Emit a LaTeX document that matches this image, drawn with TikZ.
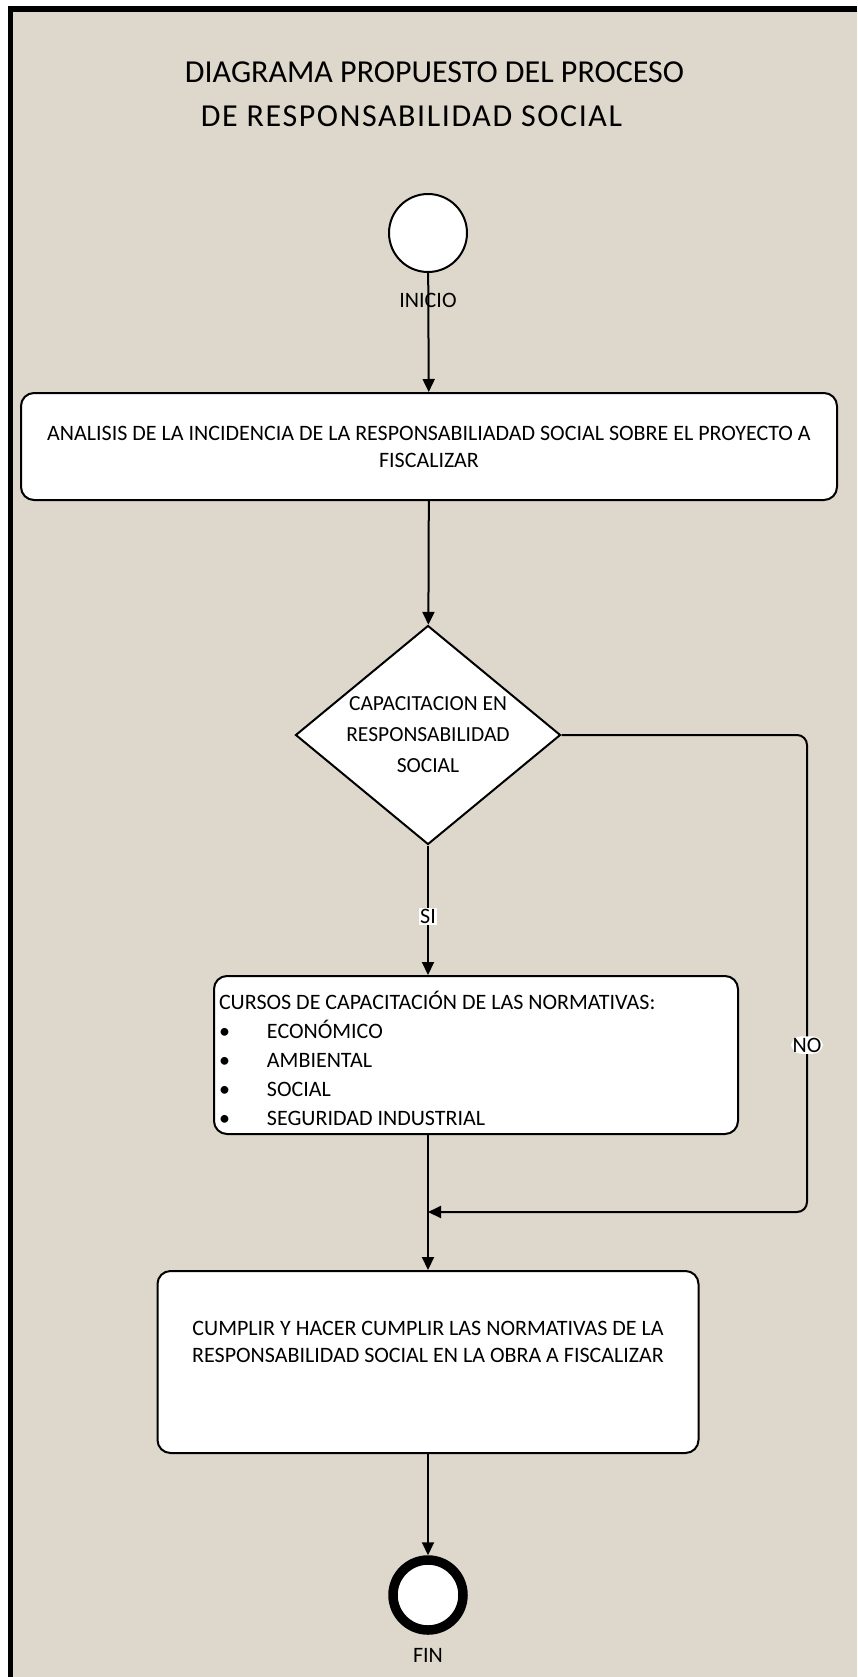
\documentclass[tikz,border=0pt]{standalone}
\usepackage{fontspec}
\setmainfont{Carlito}
\usetikzlibrary{shapes.geometric, arrows.meta, positioning}
\definecolor{papel}{RGB}{222,215,203}

\tikzset{
  proc/.style={draw, fill=white, line width=2pt, rounded corners=13pt, inner sep=0pt},
  decision/.style={diamond, draw, fill=white, line width=2pt, inner sep=0pt, aspect=1.2,
    minimum width=265pt, minimum height=219pt, align=center},
  terminal/.style={circle, draw, fill=white, inner sep=0pt},
  flecha/.style={line width=2pt, -{Triangle[length=13pt,width=12pt]}},
  etiq/.style={fill=white, inner sep=1.5pt},
  titulo/.style={font=\fontsize{32}{38}\selectfont},
}

\begin{document}
\begin{tikzpicture}[x=1pt, y=-1pt, font=\fontsize{22}{27}\selectfont]
  \useasboundingbox (0,0) rectangle (857,1677);
  \fill[papel] (0,0) rectangle (857,1677);
  % marco izquierdo y superior
  \fill[white] (0,0) rectangle (8,1677);
  \fill[white] (0,0) rectangle (857,6);
  \fill (8,6) rectangle (13,1677);
  \fill (8,6) rectangle (857,12);

  % titulo
  \node[titulo] (tit1) at (434.5,72) {DIAGRAMA PROPUESTO DEL PROCESO};
  \node[titulo] (tit2) at (411.5,116) {\addfontfeature{LetterSpace=5}DE RESPONSABILIDAD SOCIAL};

  % nodos del flujo
  \node[terminal, line width=2pt, minimum size=78pt] (inicio) at (428,233) {};
  \node (lblinicio) at (428,300) {INICIO};

  \node[proc, minimum width=816pt, minimum height=107pt, align=center] (analisis) at (429,446.5)
    {ANALISIS DE LA INCIDENCIA DE LA RESPONSABILIADAD SOCIAL SOBRE EL PROYECTO A\\FISCALIZAR};

  \node[decision, font=\fontsize{21.5}{31}\selectfont] (capac) at (428,735)
    {CAPACITACION EN\\RESPONSABILIDAD\\SOCIAL};

  \node[proc, minimum width=524pt, minimum height=158pt, text width=514pt, align=flush left,
    font=\fontsize{22}{29}\selectfont] (cursos) at (476,1055)
    {\rule{0pt}{25pt}CURSOS DE CAPACITACIÓN DE LAS NORMATIVAS:\\
     \makebox[48pt][l]{\textbullet}ECONÓMICO\\
     \makebox[48pt][l]{\textbullet}AMBIENTAL\\
     \makebox[48pt][l]{\textbullet}SOCIAL\\
     \makebox[48pt][l]{\textbullet}SEGURIDAD INDUSTRIAL};

  \node[proc, minimum width=541pt, minimum height=182pt] (cumplir) at (428,1362) {};
  \node[align=center] (txtcumplir) at (428,1342)
    {CUMPLIR Y HACER CUMPLIR LAS NORMATIVAS DE LA\\RESPONSABILIDAD SOCIAL EN LA OBRA A FISCALIZAR};

  \node[terminal, line width=9.5pt, minimum size=70pt] (fin) at (428,1595) {};
  \node (lblfin) at (428,1655) {FIN};

  % conectores
  \coordinate (codo) at (807,1212);
  \coordinate (union) at (428,1212);

  \draw[flecha] (inicio) -- (analisis);
  \draw[flecha] (analisis) -- (capac);
  \draw[flecha] (capac.south) -- node[etiq, pos=0.55] {SI} (capac.south |- cursos.north);
  \draw[flecha, rounded corners=10pt] (capac.east) -| node[etiq, pos=0.825] {NO} (codo) -- (union);
  \draw[flecha] (capac.south |- cursos.south) -- (cumplir.north);
  \draw[flecha] (cumplir) -- (fin);
\end{tikzpicture}
\end{document}
